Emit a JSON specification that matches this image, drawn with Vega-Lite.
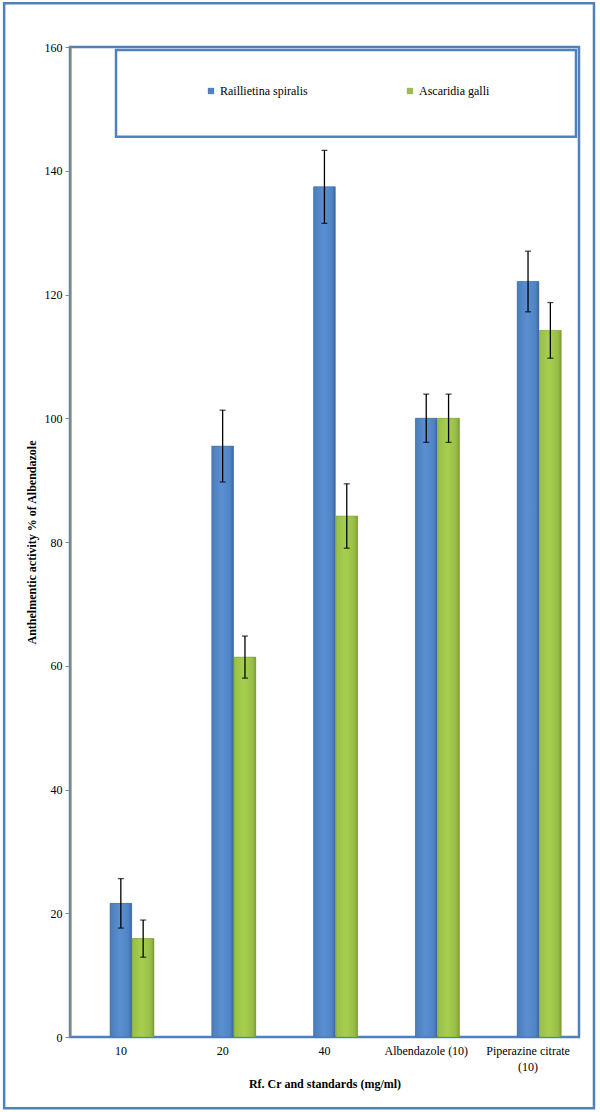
{
  "$schema": "https://vega.github.io/schema/vega-lite/v6.json",
  "width": 509,
  "height": 990,
  "padding": {"left": 2, "top": 2, "right": 5, "bottom": 3},
  "background": "white",
  "config": {
    "view": {"stroke": "#4f81bd", "strokeWidth": 2.5},
    "font": "Liberation Serif"
  },
  "datasets": {
    "bars": [
      {"group": "10", "series": "Raillietina spiralis", "value": 21.6, "lo": 17.6, "hi": 25.6},
      {"group": "10", "series": "Ascaridia galli", "value": 15.9, "lo": 12.9, "hi": 18.9},
      {"group": "20", "series": "Raillietina spiralis", "value": 95.5, "lo": 89.7, "hi": 101.3},
      {"group": "20", "series": "Ascaridia galli", "value": 61.4, "lo": 58.0, "hi": 64.8},
      {"group": "40", "series": "Raillietina spiralis", "value": 137.4, "lo": 131.5, "hi": 143.3},
      {"group": "40", "series": "Ascaridia galli", "value": 84.2, "lo": 79.0, "hi": 89.4},
      {"group": "Albendazole (10)", "series": "Raillietina spiralis", "value": 100, "lo": 96.1, "hi": 103.9},
      {"group": "Albendazole (10)", "series": "Ascaridia galli", "value": 100, "lo": 96.1, "hi": 103.9},
      {"group": "Piperazine citrate (10)", "series": "Raillietina spiralis", "value": 122.1, "lo": 117.2, "hi": 127.0},
      {"group": "Piperazine citrate (10)", "series": "Ascaridia galli", "value": 114.2, "lo": 109.7, "hi": 118.7}
    ]
  },
  "data": {"name": "bars"},
  "encoding": {
    "x": {
      "field": "group",
      "type": "nominal",
      "sort": ["10", "20", "40", "Albendazole (10)", "Piperazine citrate (10)"],
      "scale": {"paddingInner": 0, "paddingOuter": 0},
      "axis": {
        "title": "Rf. Cr and standards (mg/ml)",
        "titleFont": "Liberation Serif",
        "titleFontSize": 12,
        "titleFontWeight": "bold",
        "titleColor": "#000000",
        "titlePadding": 6,
        "labelAngle": 0,
        "labelFont": "Liberation Serif",
        "labelFontSize": 12,
        "labelColor": "#000000",
        "labelPadding": 8,
        "labelLineHeight": 16,
        "labelExpr": "datum.value == 'Piperazine citrate (10)' ? ['Piperazine citrate', '(10)'] : datum.label",
        "ticks": false,
        "domain": false
      }
    }
  },
  "layer": [
    {
      "data": {"values": [{}]},
      "mark": {"type": "rect", "fillOpacity": 0, "stroke": "#4f81bd", "strokeWidth": 2.5},
      "encoding": {
        "x": {"datum": "10", "bandPosition": -0.647},
        "x2": {"datum": "Piperazine citrate (10)", "bandPosition": 1.147},
        "y": {"datum": 167.06, "type": "quantitative"},
        "y2": {"datum": -11.52}
      }
    },
    {
      "mark": {"type": "bar"},
      "encoding": {
        "xOffset": {
          "field": "series",
          "type": "nominal",
          "scale": {"domain": ["Raillietina spiralis", "Ascaridia galli"], "range": [40, 84], "paddingInner": 0.03, "paddingOuter": 0}
        },
        "y": {
          "field": "value",
          "type": "quantitative",
          "scale": {"domain": [0, 160], "nice": false},
          "axis": {
            "title": "Anthelmentic activity  % of Albendazole",
            "titleFont": "Liberation Serif",
            "titleFontSize": 12,
            "titleFontWeight": "bold",
            "titleColor": "#000000",
            "titlePadding": 6,
            "values": [0, 20, 40, 60, 80, 100, 120, 140, 160],
            "labelFont": "Liberation Serif",
            "labelFontSize": 12,
            "labelColor": "#000000",
            "labelPadding": 3,
            "tickColor": "#868686",
            "tickSize": 5,
            "domainColor": "#868686",
            "domainWidth": 2,
            "gridColor": "#a6a6a6",
            "gridWidth": 1.2
          }
        },
        "color": {
          "field": "series",
          "type": "nominal",
          "scale": {"domain": ["Raillietina spiralis", "Ascaridia galli"], "range": ["#4f81bd", "#9bbb59"]},
          "legend": {
            "orient": "none",
            "legendX": 135,
            "legendY": 38,
            "direction": "horizontal",
            "title": null,
            "symbolType": "square",
            "symbolSize": 40,
            "symbolStrokeWidth": 0,
            "labelFont": "Liberation Serif",
            "labelFontSize": 12,
            "labelColor": "#000000",
            "labelOffset": 3,
            "columnPadding": 96
          }
        }
      }
    },
    {
      "transform": [{"filter": "datum.series === 'Raillietina spiralis'"}],
      "mark": {
        "type": "bar",
        "stroke": "#3f6aa0",
        "strokeWidth": 0.5,
        "color": {
          "gradient": "linear", "x1": 0, "y1": 0, "x2": 1, "y2": 0,
          "stops": [
            {"offset": 0, "color": "#4a7cb8"},
            {"offset": 0.45, "color": "#5a8fd2"},
            {"offset": 0.85, "color": "#4f84c4"},
            {"offset": 1, "color": "#3c679e"}
          ]
        }
      },
      "encoding": {
        "xOffset": {"field": "series", "type": "nominal"},
        "y": {"field": "value", "type": "quantitative"}
      }
    },
    {
      "transform": [{"filter": "datum.series === 'Ascaridia galli'"}],
      "mark": {
        "type": "bar",
        "stroke": "#7a9636",
        "strokeWidth": 0.5,
        "color": {
          "gradient": "linear", "x1": 0, "y1": 0, "x2": 1, "y2": 0,
          "stops": [
            {"offset": 0, "color": "#98bf48"},
            {"offset": 0.45, "color": "#a7cf4e"},
            {"offset": 0.85, "color": "#98bd46"},
            {"offset": 1, "color": "#7f9c38"}
          ]
        }
      },
      "encoding": {
        "xOffset": {"field": "series", "type": "nominal"},
        "y": {"field": "value", "type": "quantitative"}
      }
    },
    {
      "mark": {"type": "rule", "color": "#000000", "strokeWidth": 1.3},
      "encoding": {
        "xOffset": {"field": "series", "type": "nominal"},
        "y": {"field": "lo", "type": "quantitative"},
        "y2": {"field": "hi"}
      }
    },
    {
      "mark": {"type": "tick", "color": "#000000", "thickness": 1.3, "size": 6},
      "encoding": {
        "xOffset": {"field": "series", "type": "nominal"},
        "y": {"field": "lo", "type": "quantitative"}
      }
    },
    {
      "mark": {"type": "tick", "color": "#000000", "thickness": 1.3, "size": 6},
      "encoding": {
        "xOffset": {"field": "series", "type": "nominal"},
        "y": {"field": "hi", "type": "quantitative"}
      }
    },
    {
      "data": {"values": [{}]},
      "mark": {"type": "rect", "fill": "white", "stroke": "#4f81bd", "strokeWidth": 2.5},
      "encoding": {
        "x": {"datum": "10", "bandPosition": 0.452},
        "x2": {"datum": "Piperazine citrate (10)", "bandPosition": 0.97},
        "y": {"datum": 159.5, "type": "quantitative"},
        "y2": {"datum": 145.5}
      }
    }
  ]
}
